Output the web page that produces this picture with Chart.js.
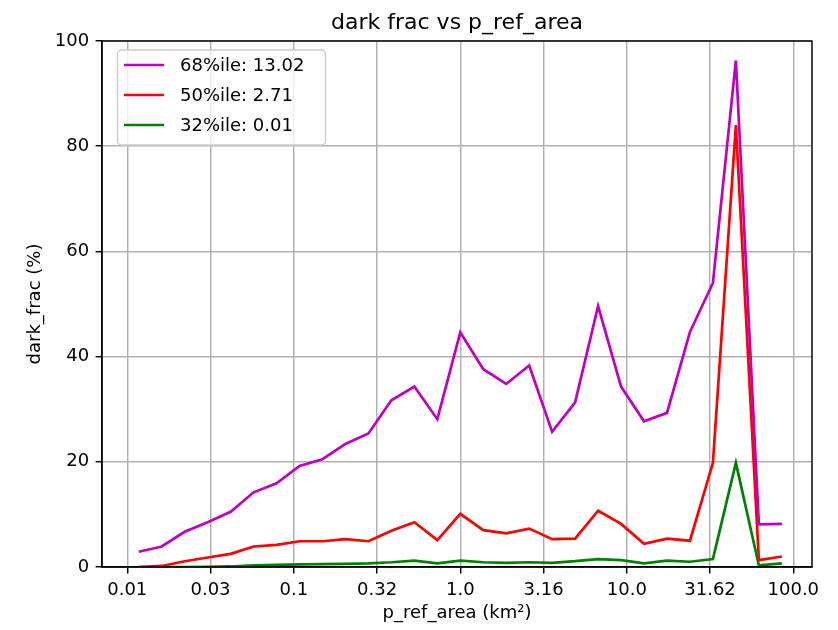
<!DOCTYPE html>
<html>
<head>
<meta charset="utf-8">
<script src="https://cdn.jsdelivr.net/npm/chart.js@4"></script>
<style>
  html, body { margin: 0; padding: 0; background: #fff; }
  canvas { display: block; }
</style>
</head>
<body>
<canvas id="c" width="838" height="630"></canvas>
<script>
// Bin centres of p_ref_area (km²), log-spaced
const areaBins = [0.01172, 0.01610, 0.02212, 0.03039, 0.04175, 0.05736, 0.07880, 0.1083, 0.1487, 0.2043,
                  0.2807, 0.3857, 0.5298, 0.7279, 1.0, 1.374, 1.887, 2.593, 3.562, 4.894,
                  6.723, 9.237, 12.69, 17.43, 23.95, 32.90, 45.20, 62.10, 85.31];

// dark_frac (%) per bin for each percentile
const pct68 = [2.9, 3.9, 6.7, 8.5, 10.5, 14.2, 15.9, 19.2, 20.5, 23.4,
               25.4, 31.7, 34.3, 28.1, 44.6, 37.6, 34.8, 38.3, 25.7, 31.3,
               49.6, 34.3, 27.7, 29.3, 44.7, 54.0, 96.3, 8.1, 8.2];
const pct50 = [0.0, 0.2, 1.1, 1.8, 2.5, 3.9, 4.2, 4.9, 4.9, 5.3,
               4.9, 6.9, 8.5, 5.1, 10.1, 7.0, 6.4, 7.3, 5.3, 5.4,
               10.7, 8.2, 4.4, 5.4, 5.0, 19.8, 84.0, 1.3, 2.0];
const pct32 = [0.0, 0.0, 0.0, 0.05, 0.1, 0.3, 0.4, 0.5, 0.55, 0.6,
               0.7, 0.9, 1.2, 0.7, 1.2, 0.9, 0.8, 0.9, 0.8, 1.1,
               1.5, 1.3, 0.7, 1.2, 1.0, 1.5, 19.8, 0.3, 0.7];

const seriesNames = ['68%ile: 13.02', '50%ile: 2.71', '32%ile: 0.01'];
const seriesColors = ['#bf00bf', '#ff0000', '#008000'];

// Half-decade ticks on the area axis
const xTickValues = [0.01, 0.031623, 0.1, 0.31623, 1.0, 3.1623, 10.0, 31.623, 100.0];
const xTickLabels = ['0.01', '0.03', '0.1', '0.32', '1.0', '3.16', '10.0', '31.62', '100.0'];
const yTickValues = [0, 20, 40, 60, 80, 100];

const chartTitle = 'dark frac vs p_ref_area';
const xTitle = 'p_ref_area (km²)';
const yTitle = 'dark_frac (%)';

const FONT = 'DejaVu Sans';
const LW = 1.45;

const allSeries = [pct68, pct50, pct32];
const datasets = allSeries.map((vals, k) => ({
  label: seriesNames[k],
  data: areaBins.map((x, i) => ({ x: x, y: vals[i] })),
  borderColor: seriesColors[k],
  backgroundColor: seriesColors[k],
  borderWidth: 2.7,
  pointRadius: 0,
  tension: 0,
  fill: false
}));

// Frame, title and in-axes legend
const decorPlugin = {
  id: 'decor',
  afterDraw(chart) {
    const ctx = chart.ctx;
    const ca = chart.chartArea;
    ctx.save();

    // full box around the axes
    ctx.strokeStyle = '#000';
    ctx.lineWidth = LW;
    ctx.strokeRect(ca.left, ca.top, ca.right - ca.left, ca.bottom - ca.top);

    // title
    ctx.fillStyle = '#000';
    ctx.font = '22px "' + FONT + '"';
    ctx.textAlign = 'center';
    ctx.textBaseline = 'alphabetic';
    ctx.fillText(chartTitle, (ca.left + ca.right) / 2, 29);

    // legend
    const lx = ca.left + 15.5, ly = ca.top + 9, lw = 208, lh = 95, r = 4;
    ctx.beginPath();
    ctx.moveTo(lx + r, ly);
    ctx.lineTo(lx + lw - r, ly);
    ctx.arcTo(lx + lw, ly, lx + lw, ly + r, r);
    ctx.lineTo(lx + lw, ly + lh - r);
    ctx.arcTo(lx + lw, ly + lh, lx + lw - r, ly + lh, r);
    ctx.lineTo(lx + r, ly + lh);
    ctx.arcTo(lx, ly + lh, lx, ly + lh - r, r);
    ctx.lineTo(lx, ly + r);
    ctx.arcTo(lx, ly, lx + r, ly, r);
    ctx.closePath();
    ctx.fillStyle = 'rgba(255,255,255,0.8)';
    ctx.fill();
    ctx.strokeStyle = '#cccccc';
    ctx.lineWidth = LW;
    ctx.stroke();

    ctx.font = '18px "' + FONT + '"';
    ctx.textAlign = 'left';
    ctx.textBaseline = 'middle';
    chart.data.datasets.forEach((ds, i) => {
      const y = ly + 15 + 30 * i;
      ctx.strokeStyle = ds.borderColor;
      ctx.lineWidth = 2.7;
      ctx.beginPath();
      ctx.moveTo(lx + 6.5, y);
      ctx.lineTo(lx + 46.5, y);
      ctx.stroke();
      ctx.fillStyle = '#000';
      ctx.fillText(ds.label, lx + 62.5, y + 1);
    });
    ctx.restore();
  }
};

const gridOpts = {
  color: '#b0b0b0',
  lineWidth: LW,
  drawTicks: true,
  tickLength: 6.4,
  tickColor: '#000',
  tickWidth: LW
};

new Chart(document.getElementById('c'), {
  type: 'line',
  data: { datasets: datasets },
  options: {
    responsive: false,
    animation: false,
    events: [],
    layout: { padding: { left: 0, top: 41, right: 26, bottom: 0 } },
    plugins: {
      legend: { display: false },
      title: { display: false },
      tooltip: { enabled: false }
    },
    scales: {
      x: {
        type: 'logarithmic',
        min: 0.00705,
        max: 129.5,
        afterBuildTicks: s => { s.ticks = xTickValues.map(v => ({ value: v })); },
        afterFit: s => { s.height = 63; },
        ticks: {
          callback: (v, i) => xTickLabels[i],
          autoSkip: false,
          maxRotation: 0,
          minRotation: 0,
          padding: 6.4,
          color: '#000',
          font: { family: FONT, size: 18 }
        },
        grid: gridOpts,
        border: { display: true, color: '#000', width: LW },
        title: {
          display: true,
          text: xTitle,
          color: '#000',
          font: { family: FONT, size: 18 },
          padding: { top: 0, bottom: 6.2 }
        }
      },
      y: {
        type: 'linear',
        min: 0,
        max: 100,
        afterBuildTicks: s => { s.ticks = yTickValues.map(v => ({ value: v })); },
        afterFit: s => { s.width = 102; },
        ticks: {
          padding: 6.4,
          color: '#000',
          font: { family: FONT, size: 18 }
        },
        grid: gridOpts,
        border: { display: true, color: '#000', width: LW },
        title: {
          display: true,
          text: yTitle,
          color: '#000',
          font: { family: FONT, size: 18 },
          padding: { top: 24.2, bottom: 0 }
        }
      }
    }
  },
  plugins: [decorPlugin]
});
</script>
</body>
</html>
